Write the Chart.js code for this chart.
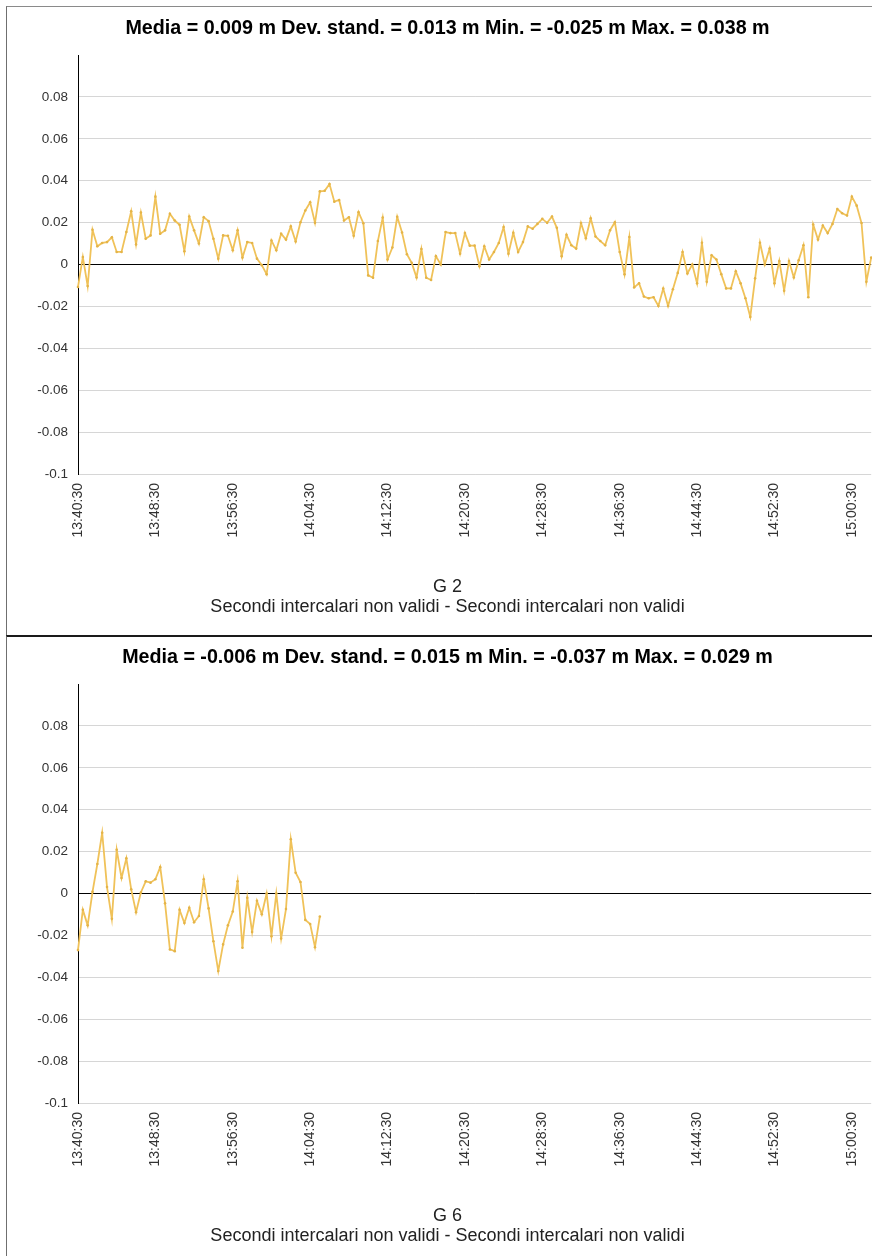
<!DOCTYPE html>
<html lang="it">
<head>
<meta charset="utf-8">
<title>G 2 / G 6</title>
<script src="https://cdn.jsdelivr.net/npm/chart.js@4.4.1/dist/chart.umd.min.js"></script>
<style>
  html, body { margin: 0; padding: 0; background: #fff; overflow: hidden; }
  body { width: 872px; height: 1256px; position: relative; }
  .panel { position: absolute; left: 6px; width: 900px; height: 629px; border-left: 1px solid #6f6f6f; }
  #panel1 { top: 6px; border-top: 1px solid #8a8a8a; }
  #panel2 { top: 635px; border-top: 2px solid #1a1a1a; }
  canvas { position: absolute; left: 0; }
  #chartG2 { top: 7px; }
  #chartG6 { top: 636px; }
</style>
</head>
<body>
<div class="panel" id="panel1"></div>
<div class="panel" id="panel2"></div>
<canvas id="chartG2" width="889" height="629"></canvas>
<canvas id="chartG6" width="889" height="629"></canvas>
<script>
// samples every 30 s starting at 13:40:30
const START_TIME = '13:40:30';
const STEP_SECONDS = 30;
const SAMPLE_COUNT = 165;

const TICK_LABELS = [
  '13:40:30', '13:48:30', '13:56:30', '14:04:30', '14:12:30', '14:20:30',
  '14:28:30', '14:36:30', '14:44:30', '14:52:30', '15:00:30',
];

const Y_MIN = -0.1;
const Y_MAX = 0.1;
const Y_STEP = 0.02;

// G 2 (m)
const G2_VALUES = [
  -0.0107, 0.0036, -0.0103, 0.0166, 0.0087, 0.0103, 0.0107, 0.0130, 0.0060, 0.0060,
  0.0155, 0.0254, 0.0096, 0.0248, 0.0123, 0.0139, 0.0324, 0.0147, 0.0163, 0.0242,
  0.0210, 0.0190, 0.0063, 0.0229, 0.0163, 0.0100, 0.0226, 0.0207, 0.0123, 0.0028,
  0.0139, 0.0137, 0.0068, 0.0163, 0.0033, 0.0107, 0.0103, 0.0028, -0.0003, -0.0046,
  0.0115, 0.0068, 0.0147, 0.0119, 0.0182, 0.0110, 0.0202, 0.0258, 0.0297, 0.0199,
  0.0349, 0.0352, 0.0384, 0.0300, 0.0308, 0.0210, 0.0226, 0.0137, 0.0250, 0.0197,
  -0.0052, -0.0063, 0.0112, 0.0224, 0.0024, 0.0081, 0.0228, 0.0153, 0.0049, 0.0008,
  -0.0062, 0.0074, -0.0063, -0.0074, 0.0040, 0.0000, 0.0155, 0.0150, 0.0150, 0.0052,
  0.0150, 0.0090, 0.0090, -0.0008, 0.0087, 0.0024, 0.0060, 0.0103, 0.0179, 0.0052,
  0.0152, 0.0060, 0.0107, 0.0182, 0.0171, 0.0194, 0.0218, 0.0199, 0.0229, 0.0175,
  0.0040, 0.0142, 0.0092, 0.0076, 0.0198, 0.0126, 0.0221, 0.0134, 0.0112, 0.0092,
  0.0163, 0.0202, 0.0060, -0.0047, 0.0131, -0.0109, -0.0090, -0.0153, -0.0161, -0.0156,
  -0.0198, -0.0115, -0.0198, -0.0118, -0.0040, 0.0060, -0.0043, 0.0000, -0.0090, 0.0104,
  -0.0082, 0.0044, 0.0024, -0.0046, -0.0114, -0.0114, -0.0032, -0.0090, -0.0161, -0.0250,
  -0.0066, 0.0104, 0.0000, 0.0076, -0.0090, 0.0017, -0.0125, 0.0017, -0.0062, 0.0020,
  0.0092, -0.0156, 0.0191, 0.0119, 0.0186, 0.0150, 0.0194, 0.0265, 0.0245, 0.0234,
  0.0324, 0.0281, 0.0198, -0.0082, 0.0033,
];

// G 6 (m) - stops after 14:05:30
const G6_VALUES = [
  -0.0270, -0.0078, -0.0152, 0.0008, 0.0141, 0.0290, 0.0031, -0.0121, 0.0209, 0.0074,
  0.0168, 0.0020, -0.0089, 0.0005, 0.0058, 0.0052, 0.0068, 0.0126, -0.0047, -0.0267,
  -0.0275, -0.0078, -0.0141, -0.0068, -0.0137, -0.0107, 0.0068, -0.0071, -0.0228, -0.0370,
  -0.0243, -0.0152, -0.0086, 0.0058, -0.0259, -0.0020, -0.0184, -0.0035, -0.0099, 0.0000,
  -0.0204, 0.0000, -0.0215, -0.0074, 0.0259, 0.0099, 0.0055, -0.0126, -0.0146, -0.0256,
  -0.0110,
];

const G2_TITLE = 'Media = 0.009 m Dev. stand. = 0.013 m Min. = -0.025 m Max. = 0.038 m';
const G6_TITLE = 'Media = -0.006 m Dev. stand. = 0.015 m Min. = -0.037 m Max. = 0.029 m';
const CAPTION = 'Secondi intercalari non validi - Secondi intercalari non validi';

const LINE_COLOR = '#f0c259';
const POINT_COLOR = '#e4b448';
const TEXT_FONT = "'Liberation Sans', Arial, sans-serif";

function buildTimeLabels(start, step, count) {
  const [h, m, s] = start.split(':').map(Number);
  const base = h * 3600 + m * 60 + s;
  const labels = [];
  for (let i = 0; i < count; i++) {
    const t = base + i * step;
    const hh = String(Math.floor(t / 3600)).padStart(2, '0');
    const mm = String(Math.floor((t % 3600) / 60)).padStart(2, '0');
    const ss = String(t % 60).padStart(2, '0');
    labels.push(`${hh}:${mm}:${ss}`);
  }
  return labels;
}

const timeLabels = buildTimeLabels(START_TIME, STEP_SECONDS, SAMPLE_COUNT);

function gridColor(ctx) {
  const v = ctx.tick.value;
  if (Math.abs(v) < 1e-9) return '#000000';
  if (v > Y_MAX - Y_STEP / 2) return 'rgba(0,0,0,0)';
  return '#d6d6d6';
}

function makeChart(canvasId, values, title, name) {
  return new Chart(document.getElementById(canvasId), {
    type: 'line',
    data: {
      labels: timeLabels,
      datasets: [
        {
          data: values,
          borderColor: LINE_COLOR,
          borderWidth: 1.8,
          pointRadius: 1.3,
          pointBorderWidth: 0,
          pointBackgroundColor: POINT_COLOR,
          tension: 0,
          fill: false,
        },
      ],
    },
    options: {
      responsive: false,
      animation: false,
      events: [],
      layout: { padding: { left: 6, right: 0, top: 0, bottom: 0 } },
      plugins: {
        legend: { display: false },
        tooltip: { enabled: false },
        title: {
          display: true,
          text: title,
          color: '#000',
          font: { family: TEXT_FONT, size: 19.7, weight: 'bold', lineHeight: 1.2 },
          padding: { top: 10.2, bottom: 14.2 },
        },
        // series name and caption under the time axis
        subtitle: {
          display: true,
          position: 'bottom',
          text: [name, CAPTION],
          color: '#222',
          font: { family: TEXT_FONT, size: 18, lineHeight: 1.1 },
          padding: { top: 23.1, bottom: 19.3 },
        },
      },
      scales: {
        x: {
          grid: { display: false },
          border: { display: false },
          ticks: {
            autoSkip: false,
            minRotation: 90,
            maxRotation: 90,
            padding: 1,
            color: '#333',
            font: { family: TEXT_FONT, size: 14 },
            callback(value) {
              const label = this.getLabelForValue(value);
              return TICK_LABELS.includes(label) ? label : '';
            },
          },
          afterFit(scale) {
            scale.height = 80;
          },
        },
        y: {
          min: Y_MIN,
          max: Y_MAX,
          grid: { drawTicks: false, color: gridColor, lineWidth: 1 },
          border: { display: true, color: '#000', width: 1 },
          ticks: {
            stepSize: Y_STEP,
            padding: 10,
            color: '#333',
            font: { family: TEXT_FONT, size: 13.5 },
            callback: (v) => (v > Y_MAX - Y_STEP / 2 ? '' : String(Number(v.toFixed(2)))),
          },
          afterFit(scale) {
            scale.width = 72;
          },
        },
      },
    },
  });
}

makeChart('chartG2', G2_VALUES, G2_TITLE, 'G 2');
makeChart('chartG6', G6_VALUES, G6_TITLE, 'G 6');
</script>
</body>
</html>
